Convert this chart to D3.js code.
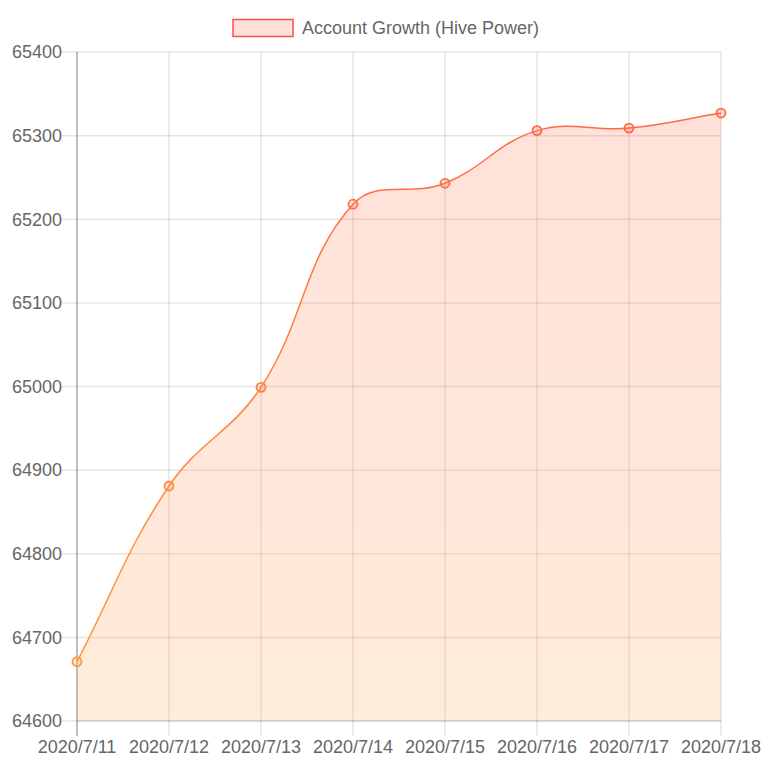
<!DOCTYPE html>
<html><head><meta charset="utf-8">
<script src="https://cdn.jsdelivr.net/npm/d3@7"></script>
<style>html,body{margin:0;padding:0;background:#fff;}svg{display:block;}</style>
</head><body>
<svg id="c" width="768" height="768"></svg>
<script>
const categories = ["2020/7/11","2020/7/12","2020/7/13","2020/7/14","2020/7/15","2020/7/16","2020/7/17","2020/7/18"];
const values = [64671, 64881, 64999, 65218, 65243, 65306, 65309, 65327];
const yTicks = [64600, 64700, 64800, 64900, 65000, 65100, 65200, 65300, 65400];
const seriesName = "Account Growth (Hive Power)";

const W = 768, H = 768;
const m = {l: 77, r: 721, t: 52, b: 721};
const font = '"Helvetica Neue", Helvetica, "Liberation Sans", Arial, sans-serif';
const svg = d3.select("#c");

const x = d3.scalePoint().domain(categories).range([m.l, m.r]);
const y = d3.scaleLinear().domain([64600, 65400]).range([m.b, m.t]);

const defs = svg.append("defs");
const sg = defs.append("linearGradient").attr("id","sg").attr("gradientUnits","userSpaceOnUse")
  .attr("x1",0).attr("y1",m.t).attr("x2",0).attr("y2",m.b);
sg.append("stop").attr("offset",0).attr("stop-color","rgb(255,99,71)");
sg.append("stop").attr("offset",1).attr("stop-color","rgb(255,159,64)");
const fg = defs.append("linearGradient").attr("id","fg").attr("gradientUnits","userSpaceOnUse")
  .attr("x1",0).attr("y1",m.t).attr("x2",0).attr("y2",m.b);
fg.append("stop").attr("offset",0).attr("stop-color","rgb(255,99,71)").attr("stop-opacity",0.2);
fg.append("stop").attr("offset",1).attr("stop-color","rgb(255,159,64)").attr("stop-opacity",0.2);

// grid
const g = svg.append("g");
yTicks.forEach(t => {
  g.append("line").attr("x1", m.l - 15).attr("x2", m.r).attr("y1", y(t)).attr("y2", y(t))
   .attr("stroke","rgba(0,0,0,0.1)").attr("stroke-width",1.5);
  g.append("text").attr("x", m.l - 15).attr("y", y(t)).attr("dy","0.35em").attr("text-anchor","end")
   .attr("font-family",font).attr("font-size",18).attr("fill","#666").text(t);
});
categories.forEach((c,i) => {
  g.append("line").attr("x1", x(c)).attr("x2", x(c)).attr("y1", m.t).attr("y2", m.b + 15)
   .attr("stroke", "rgba(0,0,0,0.1)").attr("stroke-width",1.5);
  g.append("text").attr("x", x(c)).attr("y", m.b + 32).attr("text-anchor","middle")
   .attr("font-family",font).attr("font-size",18).attr("fill","#666").text(c);
});
g.append("line").attr("x1", m.l).attr("x2", m.l).attr("y1", m.t).attr("y2", m.b + 15)
 .attr("stroke","rgba(0,0,0,0.25)").attr("stroke-width",1.5);

// Chart.js-like spline
const pts = categories.map((c,i) => ({x: x(c), y: y(values[i])}));
const tension = 0.4;
pts.forEach((p,i) => {
  const prev = pts[i-1] || p, next = pts[i+1] || p;
  const d01 = Math.hypot(p.x-prev.x, p.y-prev.y), d12 = Math.hypot(next.x-p.x, next.y-p.y);
  let s01 = d01/(d01+d12), s12 = d12/(d01+d12);
  if (isNaN(s01)) s01 = 0; if (isNaN(s12)) s12 = 0;
  const fa = tension*s01, fb = tension*s12;
  p.cpPx = p.x - fa*(next.x-prev.x); p.cpPy = p.y - fa*(next.y-prev.y);
  p.cpNx = p.x + fb*(next.x-prev.x); p.cpNy = p.y + fb*(next.y-prev.y);
  p.cpPy = Math.max(m.t, Math.min(m.b, p.cpPy));
  p.cpNy = Math.max(m.t, Math.min(m.b, p.cpNy));
});
function linePath(path){
  path.moveTo(pts[0].x, pts[0].y);
  for (let i=1;i<pts.length;i++){
    const a = pts[i-1], b = pts[i];
    path.bezierCurveTo(a.cpNx, a.cpNy, b.cpPx, b.cpPy, b.x, b.y);
  }
  return path;
}
const ap = linePath(d3.path());
ap.lineTo(pts[pts.length-1].x, y(64600));
ap.lineTo(pts[0].x, y(64600));
ap.closePath();
svg.append("path").attr("d", ap.toString()).attr("fill","url(#fg)");
svg.append("path").attr("d", linePath(d3.path()).toString()).attr("fill","none")
  .attr("stroke","url(#sg)").attr("stroke-width",1.5);

// bottom axis line
svg.append("line").attr("x1", m.l).attr("x2", m.r).attr("y1", m.b).attr("y2", m.b)
 .attr("stroke","rgba(0,0,0,0.1)").attr("stroke-width",1.5);

svg.append("g").selectAll("circle").data(pts).join("circle")
  .attr("cx", d=>d.x).attr("cy", d=>d.y).attr("r", 4.5)
  .attr("fill","url(#fg)").attr("stroke","url(#sg)").attr("stroke-width",1.8);

// legend
const lg = svg.append("g");
lg.append("rect").attr("x",233).attr("y",19.5).attr("width",60).attr("height",17)
  .attr("fill","rgba(255,99,71,0.2)").attr("stroke","rgb(250,80,70)").attr("stroke-width",1.5);
lg.append("text").attr("x",302).attr("y",28).attr("dy","0.35em")
  .attr("font-family",font).attr("font-size",18).attr("fill","#666").text(seriesName);
</script>
</body></html>
